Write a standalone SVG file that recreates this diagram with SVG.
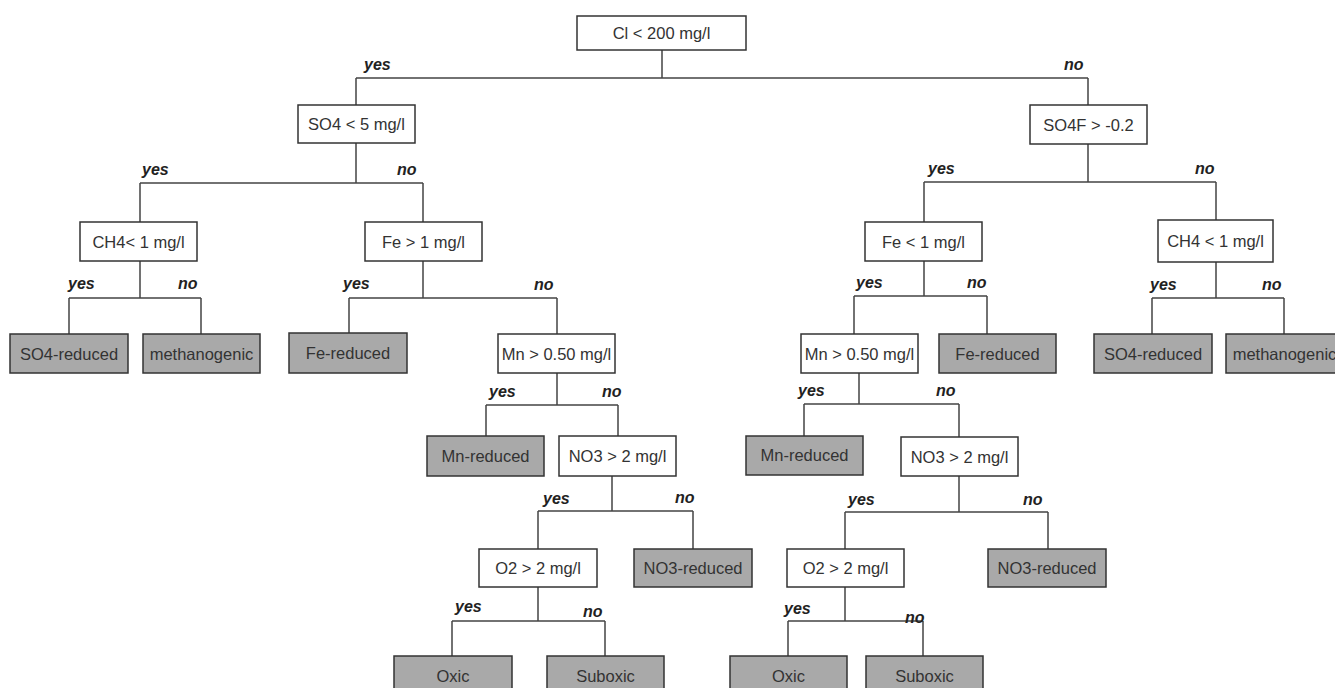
<svg xmlns="http://www.w3.org/2000/svg" width="1335" height="688" viewBox="0 0 1335 688">
<style>
.d rect{fill:#fff;stroke:#333;stroke-width:1.5}
.l rect{fill:#a9a9a9;stroke:#333;stroke-width:1.5}
text{font-family:"Liberation Sans",Arial,sans-serif}
.d text,.l text{font-size:16.5px;fill:#333;text-anchor:middle}
.lab{font-size:16px;font-weight:bold;font-style:italic;fill:#222}
#connectors path{fill:none;stroke:#444;stroke-width:1.5}
</style>
<rect width="1335" height="688" fill="#fff"/>
<g id="connectors">
<path d="M662 50V78M356 78H1088M356 78V105M1088 78V105"/>
<path d="M356 143V183M140 183H423M140 183V222M423 183V222"/>
<path d="M1088 144V182M924 182H1216M924 182V222M1216 182V220"/>
<path d="M140 261V298M69 298H201M69 298V334M201 298V334"/>
<path d="M423 261V298M349 298H557M349 298V333M557 298V334"/>
<path d="M924 261V296M854 296H987M854 296V334M987 296V334"/>
<path d="M1216 262V298M1152 298H1284M1152 298V334M1284 298V334"/>
<path d="M557 373V405M486 405H618M486 405V436M618 405V436"/>
<path d="M612 476V511M538 511H693M538 511V549M693 511V549"/>
<path d="M538 587V621M452 621H605M452 621V656M605 621V656"/>
<path d="M859 373V404M804 404H959M804 404V436M959 404V437"/>
<path d="M959 476V512M845 512H1048M845 512V549M1048 512V549"/>
<path d="M845 587V621M788 621H923M788 621V656M923 621V656"/>
<g id="edge-labels">
<text class="lab" x="364" y="70">yes</text><text class="lab" x="1064" y="70">no</text>
<text class="lab" x="142" y="175">yes</text><text class="lab" x="397" y="175">no</text>
<text class="lab" x="928" y="174">yes</text><text class="lab" x="1195" y="174">no</text>
<text class="lab" x="68" y="289">yes</text><text class="lab" x="178" y="289">no</text>
<text class="lab" x="343" y="289">yes</text><text class="lab" x="534" y="290">no</text>
<text class="lab" x="856" y="288">yes</text><text class="lab" x="967" y="288">no</text>
<text class="lab" x="1150" y="290">yes</text><text class="lab" x="1262" y="290">no</text>
<text class="lab" x="489" y="397">yes</text><text class="lab" x="602" y="397">no</text>
<text class="lab" x="798" y="396">yes</text><text class="lab" x="936" y="396">no</text>
<text class="lab" x="543" y="504">yes</text><text class="lab" x="675" y="503">no</text>
<text class="lab" x="848" y="505">yes</text><text class="lab" x="1023" y="505">no</text>
<text class="lab" x="455" y="612">yes</text><text class="lab" x="583" y="617">no</text>
<text class="lab" x="784" y="614">yes</text><text class="lab" x="905" y="623">no</text>
</g>
</g>
<g id="root" class="d"><rect x="577" y="16" width="169" height="34"/><text x="661.5" y="39">Cl &lt; 200 mg/l</text></g>
<g id="so4" class="d"><rect x="298" y="105" width="117" height="38"/><text x="356.5" y="130">SO4 &lt; 5 mg/l</text></g>
<g id="so4f" class="d"><rect x="1030" y="105" width="117" height="39"/><text x="1088.5" y="131">SO4F &gt; -0.2</text></g>
<g id="ch4-left" class="d"><rect x="80" y="222" width="117" height="39"/><text x="138.5" y="248">CH4&lt; 1 mg/l</text></g>
<g id="fe-left" class="d"><rect x="365" y="222" width="117" height="39"/><text x="423.5" y="248">Fe &gt; 1 mg/l</text></g>
<g id="fe-right" class="d"><rect x="865" y="222" width="117" height="39"/><text x="923.5" y="248">Fe &lt; 1 mg/l</text></g>
<g id="ch4-right" class="d"><rect x="1158" y="220" width="115" height="42"/><text x="1215.5" y="247">CH4 &lt; 1 mg/l</text></g>
<g id="mn-left" class="d"><rect x="498" y="334" width="117" height="39"/><text x="556.5" y="360">Mn &gt; 0.50 mg/l</text></g>
<g id="mn-right" class="d"><rect x="801" y="334" width="117" height="39"/><text x="859.5" y="360">Mn &gt; 0.50 mg/l</text></g>
<g id="no3-left" class="d"><rect x="559" y="436" width="117" height="40"/><text x="617.5" y="462">NO3 &gt; 2 mg/l</text></g>
<g id="no3-right" class="d"><rect x="901" y="437" width="117" height="39"/><text x="959.5" y="463">NO3 &gt; 2 mg/l</text></g>
<g id="o2-left" class="d"><rect x="479" y="549" width="118" height="38"/><text x="538" y="574">O2 &gt; 2 mg/l</text></g>
<g id="o2-right" class="d"><rect x="787" y="549" width="117" height="38"/><text x="845.5" y="574">O2 &gt; 2 mg/l</text></g>
<g id="so4-reduced-left" class="l"><rect x="10" y="334" width="118" height="39"/><text x="69" y="360">SO4-reduced</text></g>
<g id="methanogenic-left" class="l"><rect x="143" y="334" width="117" height="39"/><text x="201.5" y="360">methanogenic</text></g>
<g id="fe-reduced-left" class="l"><rect x="289" y="333" width="118" height="40"/><text x="348" y="359">Fe-reduced</text></g>
<g id="mn-reduced-left" class="l"><rect x="427" y="436" width="117" height="40"/><text x="485.5" y="462">Mn-reduced</text></g>
<g id="no3-reduced-left" class="l"><rect x="634" y="549" width="118" height="38"/><text x="693" y="574">NO3-reduced</text></g>
<g id="oxic-left" class="l"><rect x="394" y="656" width="118" height="42"/><text x="453" y="682">Oxic</text></g>
<g id="suboxic-left" class="l"><rect x="547" y="656" width="117" height="42"/><text x="605.5" y="682">Suboxic</text></g>
<g id="fe-reduced-right" class="l"><rect x="939" y="334" width="117" height="39"/><text x="997.5" y="360">Fe-reduced</text></g>
<g id="so4-reduced-right" class="l"><rect x="1094" y="334" width="118" height="39"/><text x="1153" y="360">SO4-reduced</text></g>
<g id="methanogenic-right" class="l"><rect x="1226" y="334" width="117" height="39"/><text x="1284.5" y="360">methanogenic</text></g>
<g id="mn-reduced-right" class="l"><rect x="746" y="436" width="117" height="39"/><text x="804.5" y="461">Mn-reduced</text></g>
<g id="no3-reduced-right" class="l"><rect x="988" y="549" width="118" height="38"/><text x="1047" y="574">NO3-reduced</text></g>
<g id="oxic-right" class="l"><rect x="730" y="656" width="117" height="42"/><text x="788.5" y="682">Oxic</text></g>
<g id="suboxic-right" class="l"><rect x="866" y="656" width="117" height="42"/><text x="924.5" y="682">Suboxic</text></g>
</svg>
